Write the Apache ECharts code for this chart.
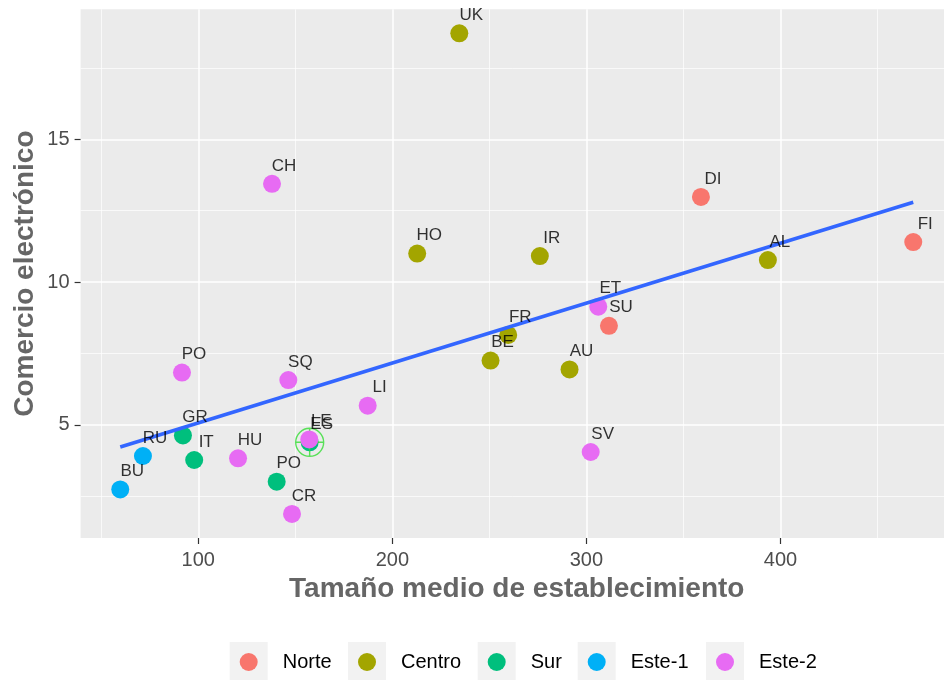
<!DOCTYPE html>
<html><head><meta charset="utf-8">
<script src="https://cdn.jsdelivr.net/npm/echarts@6/dist/echarts.min.js"></script>
<style>html,body{margin:0;padding:0;background:#fff}#c{width:944px;height:682px}</style>
</head><body><div id="c"></div>
<script>
const groups = ['Norte', 'Centro', 'Sur', 'Este-1', 'Este-2'];
const colors = ['#F8766D', '#A3A500', '#00BF7D', '#00B0F6', '#E76BF3'];

const norteNames = ['DI', 'FI', 'SU'];
const norteX = [359, 468.4, 311.6];
const norteY = [12.98, 11.40, 8.47];

const centroNames = ['UK', 'HO', 'IR', 'AL', 'FR', 'BE', 'AU'];
const centroX = [234.5, 212.8, 276, 393.5, 259.7, 250.6, 291.3];
const centroY = [18.71, 11.0, 10.91, 10.77, 8.15, 7.25, 6.94];

const surNames = ['GR', 'IT', 'PO', 'ES'];
const surX = [92.1, 97.9, 140.4, 157.4];
const surY = [4.63, 3.77, 3.01, 4.39];

const este1Names = ['RU', 'BU'];
const este1X = [71.5, 59.8];
const este1Y = [3.91, 2.74];

const este2Names = ['CH', 'PO', 'SQ', 'LI', 'HU', 'CR', 'LE', 'ET', 'SV'];
const este2X = [138, 91.6, 146.4, 187.3, 120.5, 148.3, 157.2, 306.1, 302.2];
const este2Y = [13.44, 6.83, 6.57, 5.67, 3.83, 1.88, 4.49, 9.14, 4.05];

const highlightName = 'ES';

const xTicks = [100, 200, 300, 400];
const xMinor = [50, 150, 250, 350, 450];
const yTicks = [5, 10, 15];
const yMinor = [2.5, 7.5, 12.5, 17.5];

const xTitle = 'Tamaño medio de establecimiento';
const yTitle = 'Comercio electrónico';

// ---- build ----
const FONT = "'Liberation Sans', Arial, sans-serif";
const groupData = [
  [norteNames, norteX, norteY],
  [centroNames, centroX, centroY],
  [surNames, surX, surY],
  [este1Names, este1X, este1Y],
  [este2Names, este2X, este2Y]
].map(([n, xs, ys]) => n.map((name, i) => ({ name: name, value: [xs[i], ys[i]] })));

const all = [].concat(...groupData);
const xsAll = all.map(d => d.value[0]), ysAll = all.map(d => d.value[1]);
const nPts = all.length;
const mx = xsAll.reduce((a, b) => a + b, 0) / nPts;
const my = ysAll.reduce((a, b) => a + b, 0) / nPts;
let sxy = 0, sxx = 0;
for (let i = 0; i < nPts; i++) { sxy += (xsAll[i] - mx) * (ysAll[i] - my); sxx += (xsAll[i] - mx) ** 2; }
const slope = sxy / sxx, icpt = my - slope * mx;
const xLo = Math.min(...xsAll), xHi = Math.max(...xsAll);
const yLo = Math.min(...ysAll), yHi = Math.max(...ysAll);
const xPad = (xHi - xLo) * 0.05, yPad = (yHi - yLo) * 0.05;
const xMin = xLo - xPad, xMax = xHi + xPad;
const yMin = yLo - yPad, yMax = yHi + yPad;

const hl = groupData[2].find(d => d.name === highlightName);

const series = [];
groupData.forEach((data, gi) => {
  series.push({
    name: groups[gi], type: 'scatter', data: data, symbolSize: 18,
    itemStyle: { color: colors[gi], opacity: 1 }, z: 2, silent: true
  });
  if (gi === 2) {
    series.push({
      name: 'hl', type: 'scatter', data: [hl], z: 2, silent: true,
      symbol: 'path://M0,-10A10,10 0 1,1 0,10A10,10 0 1,1 0,-10Z M-10,0L10,0 M0,-10L0,10',
      symbolSize: 28,
      itemStyle: { color: 'rgba(0,0,0,0)', borderColor: '#33DD33', borderWidth: 1.4 }
    });
  }
});
series.push({
  name: 'fit', type: 'line', z: 3, silent: true, symbol: 'none',
  data: [[xLo, icpt + slope * xLo], [xHi, icpt + slope * xHi]],
  lineStyle: { color: '#3366FF', width: 3.6 }
});
series.push({
  name: 'labels', type: 'scatter', z: 4, silent: true, data: all, symbolSize: 1,
  itemStyle: { color: 'rgba(0,0,0,0)' },
  label: { show: true, formatter: '{b}', position: 'inside', offset: [12, -18],
    color: '#000', fontSize: 17, fontFamily: FONT }
});

const dotX = [248.7, 367, 496.7, 596.7, 725];
const legends = groups.map((g, i) => ({
  data: [g], left: dotX[i] - 9, top: 652, orient: 'horizontal', padding: 0,
  itemWidth: 18, itemHeight: 18, icon: 'circle', z: 5, selectedMode: false,
  textStyle: { fontSize: 20, color: '#000', fontFamily: FONT, padding: [0, 0, 0, 20] }
}));
const graphics = dotX.map(x => ({
  type: 'rect', left: x - 19, top: 642, z: 0,
  shape: { width: 38, height: 38 }, style: { fill: '#F2F2F2' }
}));

const axisCommon = {
  type: 'value', axisLine: { show: false },
  axisTick: { show: true, length: 6, lineStyle: { color: '#333333', width: 1.2 } },
  splitLine: { show: true, lineStyle: { color: '#FFFFFF', width: 1.5 } },
  nameLocation: 'middle',
  nameTextStyle: { fontSize: 28, fontWeight: 'bold', color: '#666666', fontFamily: FONT }
};

const option = {
  animation: false,
  backgroundColor: '#FFFFFF',
  grid: { left: 80.6, width: 872.3, top: 9.3, bottom: 144, show: true, backgroundColor: '#EBEBEB',
    borderWidth: 0, outerBoundsMode: 'none', containLabel: false },
  xAxis: [
    Object.assign({}, axisCommon, {
      min: xMin, max: xMax, name: xTitle, nameGap: 37,
      axisTick: Object.assign({}, axisCommon.axisTick, { customValues: xTicks }),
      axisLabel: { customValues: xTicks, fontSize: 20, color: '#4D4D4D', margin: 12, fontFamily: FONT }
    }),
    { type: 'value', min: xMin, max: xMax, position: 'bottom', axisLine: { show: false },
      axisLabel: { show: false }, axisTick: { show: false, customValues: xMinor },
      splitLine: { show: true, lineStyle: { color: '#FFFFFF', width: 0.7 } } }
  ],
  yAxis: [
    Object.assign({}, axisCommon, {
      min: yMin, max: yMax, name: yTitle, nameGap: 41, nameMoveOverlap: false,
      axisTick: Object.assign({}, axisCommon.axisTick, { customValues: yTicks }),
      axisLabel: { customValues: yTicks, fontSize: 20, color: '#4D4D4D', margin: 11, fontFamily: FONT }
    }),
    { type: 'value', min: yMin, max: yMax, position: 'left', axisLine: { show: false },
      axisLabel: { show: false }, axisTick: { show: false, customValues: yMinor },
      splitLine: { show: true, lineStyle: { color: '#FFFFFF', width: 0.7 } } }
  ],
  legend: legends,
  graphic: graphics,
  series: series
};

const chart = echarts.init(document.getElementById('c'), null, { renderer: 'canvas' });
chart.setOption(option);
</script>
</body></html>
